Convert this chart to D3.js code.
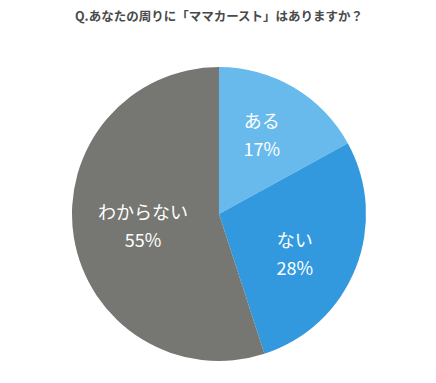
<!DOCTYPE html>
<html><head><meta charset="utf-8">
<script src="https://cdn.jsdelivr.net/npm/d3@7"></script>
<style>body{margin:0;background:#fff;}svg{display:block;}</style>
</head><body>
<script>
const title = "Q.あなたの周りに「ママカースト」はありますか？";
const categories = ["ある", "ない", "わからない"];
const values = [17, 28, 55];
const colors = ["#68baed", "#3399df", "#767772"];

const W = 436, H = 383, cx = 219, cy = 214, R = 147;
const nudges = [[-2, -2], [-6, 9], [11, -1]];
const svg = d3.select("body").append("svg").attr("width", W).attr("height", H);
svg.append("text").attr("x", 219).attr("y", 21).attr("text-anchor", "middle")
  .attr("font-family", "'Noto Sans CJK JP', sans-serif").attr("font-weight", "bold")
  .attr("font-size", 12.5).attr("fill", "#4a4a4a").text(title);

const data = categories.map((c, i) => ({ name: c, value: values[i], color: colors[i], i }));
const pie = d3.pie().value(d => d.value).sort(null);
const arc = d3.arc().innerRadius(0).outerRadius(R);
const labelArc = d3.arc().innerRadius(0).outerRadius(176);
const g = svg.append("g").attr("transform", `translate(${cx},${cy})`);
const arcs = pie(data);
g.selectAll("path").data(arcs).enter().append("path")
  .attr("d", arc).attr("fill", d => d.data.color);
const lab = g.selectAll("g.l").data(arcs).enter().append("g").attr("class", "l")
  .attr("transform", d => { const [x, y] = labelArc.centroid(d); const n = nudges[d.data.i]; return `translate(${x + n[0]},${y + n[1]})`; });
lab.append("text").attr("text-anchor", "middle").attr("y", -8)
  .attr("font-family", "'Noto Sans CJK JP', sans-serif").attr("font-size", 18).attr("fill", "#fff")
  .text(d => d.data.name);
lab.append("text").attr("text-anchor", "middle").attr("y", 20)
  .attr("font-family", "'Noto Sans CJK JP', sans-serif").attr("font-size", 18).attr("fill", "#fff")
  .text(d => d.data.value + "%");
</script>
</body></html>
